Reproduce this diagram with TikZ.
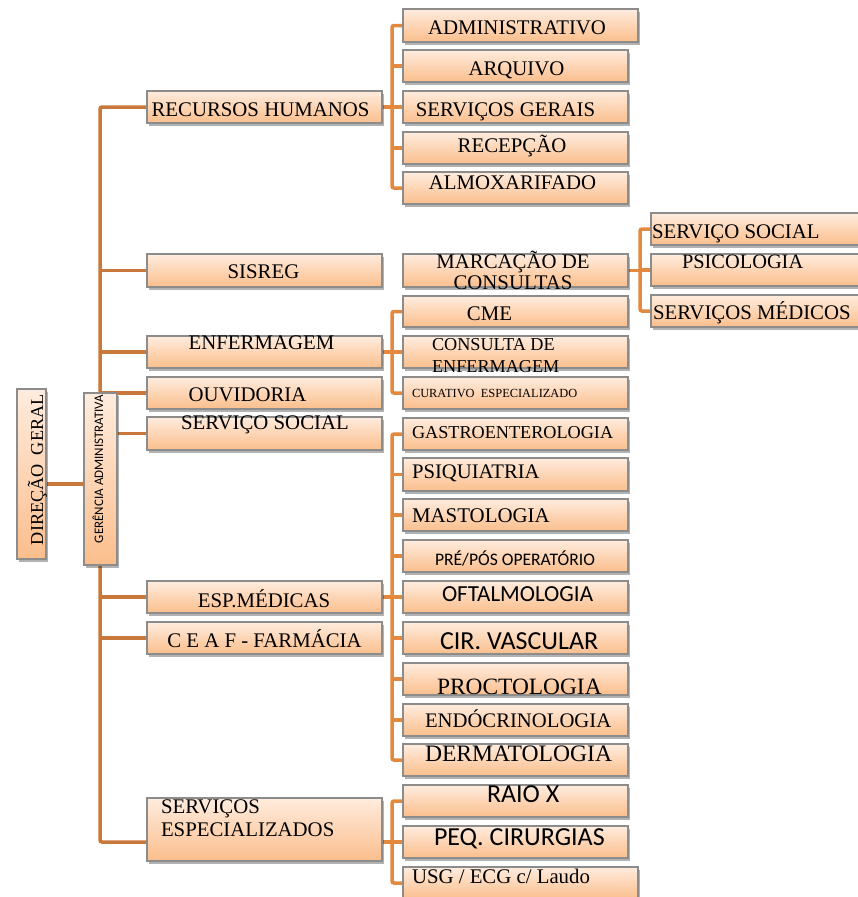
\documentclass[tikz,border=0pt]{standalone}
\usepackage{fontspec}
\setmainfont{Liberation Serif}
\newfontfamily\carl{Carlito}
\usetikzlibrary{shadows}
\pgfdeclarelayer{bg}
\pgfsetlayers{bg,main}
\definecolor{boxline}{RGB}{140,140,140}
\definecolor{boxtop}{RGB}{255,236,222}
\definecolor{boxbot}{RGB}{251,190,140}
\definecolor{conA}{RGB}{200,120,58}
\definecolor{conB}{RGB}{226,137,62}
\tikzset{
  box/.style={draw=boxline, line width=1.1pt, top color=boxtop, bottom color=boxbot,
    drop shadow={shadow xshift=1.5pt, shadow yshift=-3pt, opacity=0.3, fill=black},
    inner sep=0pt, outer sep=0pt},
  lbl/.style={inner sep=0pt, outer sep=0pt, text=black},
  c1/.style={draw=conA, line width=3.5pt, rounded corners=2pt},
  c2/.style={draw=conB, line width=3.5pt, rounded corners=2pt},
}
\newcommand\bx[5]{\node[box, minimum width={(#4)-(#2)}, minimum height={(#5)-(#3)}] (#1) at ({((#2)+(#4))/2},{((#3)+(#5))/2}) {};}
\newcommand\fs[1]{\fontsize{#1}{#1}\selectfont}
\begin{document}
\begin{tikzpicture}[x=1pt,y=-1pt]
\useasboundingbox (0,0) rectangle (857,897);
% ---- boxes ----
\bx{dg}{17}{389}{46}{559}
\bx{ger}{84}{393}{117}{565}
% level 1
\bx{rh}{147}{91}{382}{123}
\bx{sis}{147}{254}{382}{287}
\bx{enf}{147}{336}{382}{368}
\bx{ouv}{147}{377}{382}{409}
\bx{ssa}{147}{417}{382}{450}
\bx{esp}{147}{581}{382}{613}
\bx{ceaf}{147}{622}{382}{654}
\bx{se}{147}{798}{382}{861}
% level 2
\bx{adm}{403}{9}{638}{42}
\bx{arq}{403}{50}{628}{82}
\bx{sg}{403}{91}{628}{123}
\bx{rec}{403}{132}{628}{164}
\bx{alm}{403}{172}{628}{204}
\bx{mar}{403}{254}{628}{287}
\bx{cme}{403}{296}{628}{327}
\bx{cons}{403}{336}{628}{368}
\bx{cur}{403}{377}{628}{409}
\bx{gas}{403}{418}{628}{450}
\bx{psq}{403}{458}{628}{491}
\bx{mas}{403}{499}{628}{531}
\bx{pre}{403}{540}{628}{572}
\bx{oft}{403}{581}{628}{613}
\bx{cir}{403}{622}{628}{654}
\bx{pro}{403}{663}{628}{695}
\bx{end}{403}{704}{628}{736}
\bx{der}{403}{744}{628}{776}
\bx{rx}{403}{785}{628}{817}
\bx{peq}{403}{826}{628}{858}
\bx{usg}{403}{867}{638}{899}
% level 3
\bx{ssb}{651}{213}{875}{245}
\bx{psi}{651}{254}{875}{286}
\bx{sm}{651}{295}{875}{327}
% ---- labels ----
\node[lbl, rotate=90, anchor=base west, font=\fs{18.2}] (tdg) at (43,545) {DIREÇÃO\ \ GERAL};
\node[lbl, rotate=90, anchor=base west, font=\carl\fs{13}] (tger) at (103,543) {GERÊNCIA ADMINISTRATIVA};
\node[lbl, anchor=base, font=\fs{20.8}] (trh) at (260.5,116) {RECURSOS HUMANOS};
\node[lbl, anchor=base, font=\fs{20.8}] (tsis) at (263.5,278) {SISREG};
\node[lbl, anchor=base, font=\fs{20.8}] (tenf) at (261.5,349) {ENFERMAGEM};
\node[lbl, anchor=base, font=\fs{20.8}] (touv) at (247.5,401) {OUVIDORIA};
\node[lbl, anchor=base, font=\fs{20.8}] (tssa) at (265,429) {SERVIÇO SOCIAL};
\node[lbl, anchor=base, font=\fs{20.8}] (tesp) at (264,607) {ESP.MÉDICAS};
\node[lbl, anchor=base, font=\fs{20.8}] (tceaf) at (264.5,647) {C E A F - FARMÁCIA};
\node[lbl, anchor=base west, font=\fs{20.8}] (tse1) at (161,813) {SERVIÇOS};
\node[lbl, anchor=base west, font=\fs{20.8}] (tse2) at (161,836) {ESPECIALIZADOS};
\node[lbl, anchor=base, font=\fs{20.8}] (tadm) at (517,34) {ADMINISTRATIVO};
\node[lbl, anchor=base, font=\fs{20.8}] (tarq) at (516.5,75) {ARQUIVO};
\node[lbl, anchor=base, font=\fs{20.8}] (tsg) at (505.5,116) {SERVIÇOS GERAIS};
\node[lbl, anchor=base, font=\fs{20.8}] (trec) at (512,152) {RECEPÇÃO};
\node[lbl, anchor=base, font=\fs{20.8}] (talm) at (512.5,189) {ALMOXARIFADO};
\node[lbl, anchor=base, font=\fs{20.8}] (tmar1) at (513,268) {MARCAÇÃO DE};
\node[lbl, anchor=base, font=\fs{20.8}] (tmar2) at (513,289) {CONSULTAS};
\node[lbl, anchor=base, font=\fs{20.8}] (tcme) at (489.5,320) {CME};
\node[lbl, anchor=base west, font=\fs{18.2}] (tcons1) at (432,350) {CONSULTA DE};
\node[lbl, anchor=base west, font=\fs{18.2}] (tcons2) at (432,372) {ENFERMAGEM};
\node[lbl, anchor=base west, font=\fs{12.4}] (tcur) at (412,397) {CURATIVO\ \ ESPECIALIZADO};
\node[lbl, anchor=base west, font=\fs{18.2}] (tgas) at (412,438) {GASTROENTEROLOGIA};
\node[lbl, anchor=base west, font=\fs{20.7}] (tpsq) at (412,478) {PSIQUIATRIA};
\node[lbl, anchor=base west, font=\fs{20.9}] (tmas) at (412,522) {MASTOLOGIA};
\node[lbl, anchor=base west, font=\carl\fs{17.6}] (tpre) at (435,565) {PRÉ/PÓS OPERATÓRIO};
\node[lbl, anchor=base west, font=\carl\fs{23}] (toft) at (442,601) {OFTALMOLOGIA};
\node[lbl, anchor=base west, font=\carl\fs{26}] (tcir) at (440,649) {CIR. VASCULAR};
\node[lbl, anchor=base west, font=\fs{23.4}] (tpro) at (437,694) {PROCTOLOGIA};
\node[lbl, anchor=base west, font=\fs{20.7}] (tend) at (425,727) {ENDÓCRINOLOGIA};
\node[lbl, anchor=base west, font=\fs{23.6}] (tder) at (425,761) {DERMATOLOGIA};
\node[lbl, anchor=base west, font=\carl\fs{26}] (trx) at (487,802) {RAIO X};
\node[lbl, anchor=base west, font=\carl\fs{26}] (tpeq) at (434,845) {PEQ. CIRURGIAS};
\node[lbl, anchor=base west, font=\fs{20.8}] (tusg) at (412,883) {USG / ECG c/ Laudo};
\node[lbl, anchor=base west, font=\fs{20.8}] (tssb) at (652,238) {SERVIÇO SOCIAL};
\node[lbl, anchor=base west, font=\fs{20.4}] (tpsi) at (682,268) {PSICOLOGIA};
\node[lbl, anchor=base west, font=\fs{20.8}] (tsm) at (653,319) {SERVIÇOS MÉDICOS};
% ---- connectors ----
\coordinate (trunk) at (100,0);
\coordinate (va) at (392,0);
\coordinate (vb) at (640,0);
\coordinate (dgy) at (0,484);
\begin{pgfonlayer}{bg}
\coordinate (seC) at ([yshift=-12.5pt]se.west);
\coordinate (seE) at ([yshift=-12.5pt]se.east);
\draw[c1] (dg.east |- dgy) -- (ger.west |- dgy);
\draw[c1] (rh.west) -| (trunk |- seC) -- (seC);
\foreach \n in {sis,enf,ouv,esp,ceaf} \draw[c1] (trunk |- \n.west) -- (\n.west);
\draw[c1] (ger.east |- ssa.west) -- (ssa.west);
% RH group
\draw[c2] (rh.east) -- (va |- rh.east);
\draw[c2] (adm.west) -| (va |- alm.west) -- (alm.west);
\foreach \n in {arq,sg,rec} \draw[c2] (va |- \n.west) -- (\n.west);
% Marcacao group
\draw[c2] (mar.east) -- (vb |- mar.east);
\draw[c2] (ssb.west) -| (vb |- sm.west) -- (sm.west);
\draw[c2] (vb |- psi.west) -- (psi.west);
% Enfermagem group
\draw[c2] (enf.east) -- (va |- enf.east);
\draw[c2] (cme.west) -| (va |- cur.west) -- (cur.west);
\draw[c2] (va |- cons.west) -- (cons.west);
% Esp medicas group
\draw[c2] (esp.east) -- (va |- esp.east);
\draw[c2] (gas.west) -| (va |- der.west) -- (der.west);
\foreach \n in {psq,mas,pre,oft,cir,pro,end} \draw[c2] (va |- \n.west) -- (\n.west);
% Servicos especializados group
\draw[c2] (seE) -- (va |- seE);
\draw[c2] (rx.west) -| (va |- usg.west) -- (usg.west);
\draw[c2] (va |- peq.west) -- (peq.west);
\end{pgfonlayer}
\end{tikzpicture}
\end{document}
